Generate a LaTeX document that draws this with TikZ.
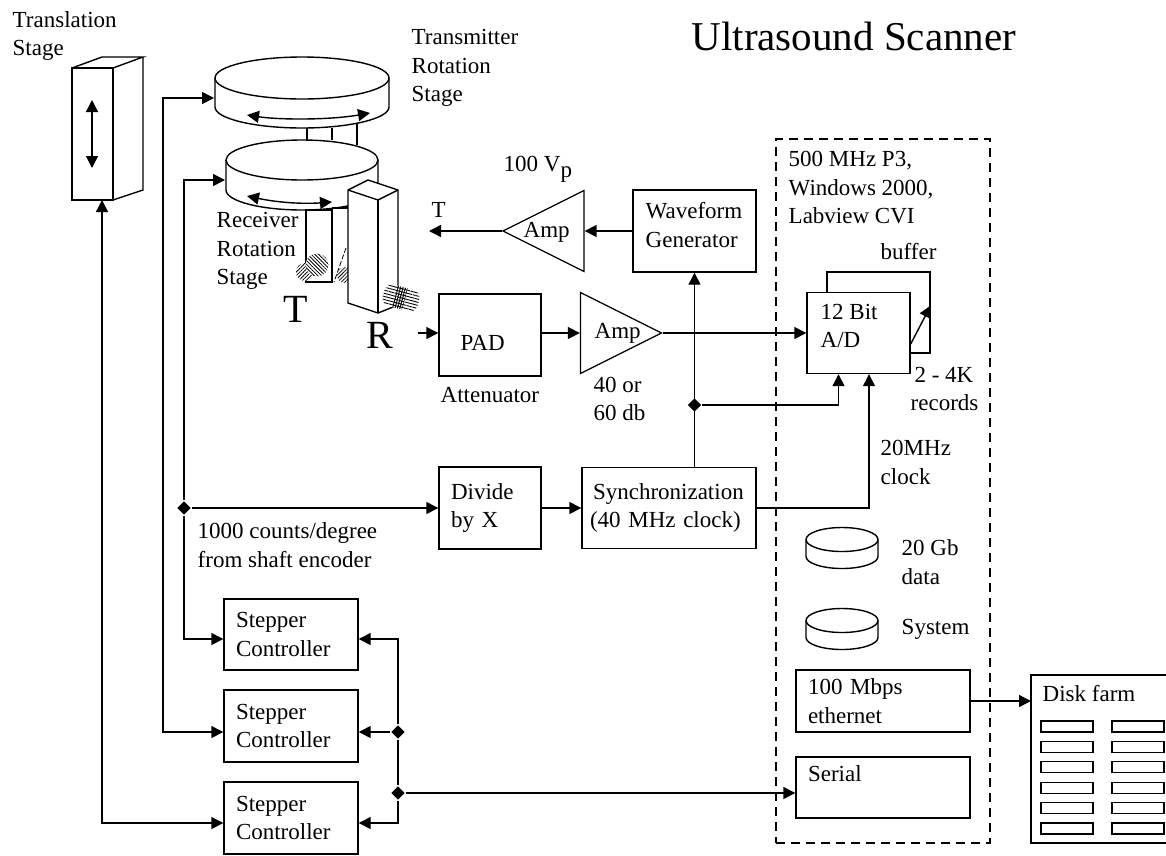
\documentclass[tikz,border=0pt]{standalone}
\usepackage{fontspec}
\setmainfont{Liberation Serif}
\usetikzlibrary{arrows.meta, positioning, shapes.geometric, patterns.meta}

\newcommand{\drawdisc}[5]{%
  \draw (#1,#2) ellipse [x radius=#3, y radius=#4];
  \draw (#1-#3,#2) -- (#1-#3,#2+#5)
    .. controls (#1-#3,#2+#5+0.55*#4) and (#1-0.55*#3,#2+#5+#4) .. (#1,#2+#5+#4)
    .. controls (#1+0.55*#3,#2+#5+#4) and (#1+#3,#2+#5+0.55*#4) .. (#1+#3,#2+#5)
    -- (#1+#3,#2);
}

\tikzset{
  line/.style={line width=1.4pt},
  arr/.style={line, -{Triangle[length=12pt,width=12pt]}},
  arrboth/.style={line, {Triangle[length=12pt,width=12pt]}-{Triangle[length=12pt,width=12pt]}},
  boxnode/.style={draw, line width=1.4pt, fill=white, align=left, inner ysep=0pt, inner xsep=12pt},
  lbl/.style={anchor=west, align=left, inner sep=0pt},
  ampnode/.style={draw, line width=1.2pt, isosceles triangle, isosceles triangle stretches, inner sep=0pt,
    minimum width=81pt, minimum height=81pt, anchor=apex},
  dotnode/.style={diamond, fill=black, inner sep=0pt, minimum size=14pt},
  drive/.style={draw, line width=1.3pt, minimum width=52pt, minimum height=11pt, inner sep=0pt},
  hatcha/.style={pattern={Lines[angle=45,distance=2.6pt,line width=0.8pt]}},
  hatchb/.style={pattern={Lines[angle=-45,distance=2.6pt,line width=0.8pt]}},
  hatchc/.style={pattern={Lines[angle=-15,distance=3pt,line width=0.9pt]}},
  hatchd/.style={pattern={Lines[angle=75,distance=2.4pt,line width=1pt]}}
}

\begin{document}
\begin{tikzpicture}[x=1pt, y=-1pt, line width=1.4pt,
    every node/.append style={font=\fontsize{23}{28.5}\selectfont}]
  \useasboundingbox (0,0) rectangle (1166,855);

  % title
  \node[lbl, font=\fontsize{41}{41}\selectfont] (title) at (691,36) {Ultrasound Scanner};

  % translation stage
  \draw (72,68) -- (102,57) -- (143,57) -- (113,68);
  \draw (143,57) -- (143,190) -- (113,200);
  \node[boxnode, minimum width=41pt, minimum height=132pt, inner sep=0pt] (transl) at (92.5,134) {};
  \draw[arrboth] (92,100) -- (92,168);
  \node[lbl] (transltext) at (12,36) {Translation\\Stage};

  % transmitter stage
  \drawdisc{302}{78}{87}{21}{29}
  \draw[arrboth] (247,115) .. controls (280,120) and (330,120) .. (370,113);
  \draw (307,128) -- (307,141);
  \draw (332,128) -- (332,140);
  \draw (357,124) -- (357,145);
  \node[lbl] (txtext) at (411,68) {Transmitter\\Rotation\\Stage};

  % receiver stage
  \drawdisc{302}{160}{76}{20}{30}
  \draw[arrboth] (247,196) .. controls (280,203) and (305,204) .. (332,202);
  \node[lbl] (rxtext) at (216,251) {Receiver\\Rotation\\Stage};

  % T probe
  \draw (332,208) -- (348,208);
  \draw (306,282) -- (306,210) -- (332,210) -- (332,282) -- cycle;
  \fill[white] (305,272) circle (9);
  \fill[hatcha] (305,272) circle (9);
  \fill[white] (317,265) circle (11.5);
  \fill[hatchb] (317,265) circle (11.5);
  \draw[line width=0.8pt, dash pattern=on 5pt off 2pt] (346,248) -- (334,282);
  \fill[hatcha] (345,275) circle (8);
  \node[font=\fontsize{40}{40}\selectfont] (tbig) at (296,309) {T};

  % R probe
  \draw[fill=white] (348,190) -- (368,180) -- (398,190) -- (398,305) -- (378,313) -- (348,303) -- cycle;
  \draw (348,190) -- (378,200) -- (398,190);
  \draw (378,200) -- (378,313);
  \fill[white, rounded corners=8pt, rotate around={-15:(401,298)}] (383,287) rectangle (419,309);
  \fill[hatchc, rounded corners=8pt, rotate around={-15:(401,298)}] (383,287) rectangle (419,309);
  \fill[hatchd, rotate around={-15:(401,298)}] (395,287) rectangle (405,309);
  \node[font=\fontsize{40}{40}\selectfont] (rbig) at (380,335) {R};

  % signal chain
  \coordinate (txout) at (429,231);
  \coordinate (rxout) at (418,333);
  \node[ampnode, shape border rotate=180] (amptx) at (501.5,231) {};
  \node[lbl] (amptxtext) at (523,232) {Amp};
  \node[lbl] (vptext) at (503,169) {100 V\raisebox{-6pt}{p}};
  \node[lbl] (ttext) at (431,210) {T};
  \node[boxnode, minimum width=123pt, minimum height=82pt, inner sep=0pt] (wave) at (694.5,231) {};
  \node[lbl] (wavetext) at (645,225) {Waveform\\Generator};
  \node[boxnode, minimum width=102pt, minimum height=82pt, inner sep=0pt] (pad) at (490,335) {};
  \node[lbl] (padtext) at (460,343) {PAD};
  \node[lbl] (attext) at (440,395) {Attenuator};
  \node[ampnode] (amprx) at (663,333) {};
  \node[lbl] (amprxtext) at (594,333) {Amp};
  \node[lbl] (dbtext) at (593,399) {40 or\\60 db};
  \draw[arr] (wave.west) -- (amptx.lower side);
  \draw[arr] (amptx.apex) -- (txout);
  \draw[arr] (rxout) -- ([yshift=2pt]pad.west);
  \draw[arr] ([yshift=2pt]pad.east) -- (amprx.lower side);

  % computer
  \node[draw, dash pattern=on 9pt off 6pt, line width=1.3pt, minimum width=214pt, minimum height=704pt, inner sep=0pt] (pc) at (883,491) {};
  \node[lbl] (pctext) at (788,188) {500 MHz P3,\\Windows 2000,\\Labview CVI};
  \node[boxnode, minimum width=103pt, minimum height=81pt, inner sep=0pt] (buffer) at (878.5,312.5) {};
  \node[boxnode, minimum width=103pt, minimum height=81pt, inner sep=0pt] (adc) at (858.5,333) {};
  \node[lbl] (adctext) at (820,326) {12 Bit\\A/D};
  \node[lbl] (buftext) at (880,252) {buffer};
  \node[lbl] (rectext) at (910,389) {\,2 - 4K\\records};
  \draw[arr] ([yshift=-11pt]adc.east) -- ([yshift=7pt]buffer.east);
  \draw[arr] (amprx.apex) -- (adc.west);

  \drawdisc{842}{539.5}{36}{12}{17}
  \node[lbl] (datatext) at (901,562) {20 Gb\\data};
  \drawdisc{842}{620.5}{36}{12}{17}
  \node[lbl] (systext) at (901,629) {System};
  \node[boxnode, text width=150pt, minimum height=62pt] (eth) at (883,701) {100 Mbps\\ethernet};
  \node[boxnode, text width=150pt, minimum height=61pt] (serial) at (883,787.5) {Serial\\~};

  % clocking
  \node[boxnode, text width=78pt, minimum height=82pt] (divx) at (490,508) {Divide\\by X};
  \node[boxnode, text width=158pt, inner xsep=8pt, minimum height=81pt] (sync) at (669,508) {\hspace{3pt}Synchronization\\(40 MHz clock)};
  \node[dotnode] (dotsync) at (694.5,405) {};
  \node[dotnode] (dotenc) at (184,508) {};
  \node[lbl] (enctext) at (197,545) {1000 counts/degree\\from shaft encoder};
  \node[lbl] (clktext) at (880,462.5) {20MHz\\clock};
  \draw[arr] (sync.north -| wave.south) -- (wave.south);
  \draw[arr] (dotsync) -| ([xshift=-20pt]adc.south);
  \draw[arr] (sync.east) -| ([xshift=10.5pt]adc.south);
  \draw[arr] (divx) -- (sync);
  \draw[arr] (dotenc) -- (divx);

  % stepper controllers
  \node[boxnode, text width=110pt, minimum height=71pt] (stepa) at (291,634.5) {Stepper\\Controller};
  \node[boxnode, text width=110pt, minimum height=72pt] (stepb) at (291,726) {Stepper\\Controller};
  \node[boxnode, text width=110pt, minimum height=72pt] (stepc) at (291,818) {Stepper\\Controller};
  \node[dotnode] (dotbus) at (398,732) {};
  \node[dotnode] (dotser) at (398,793) {};
  \coordinate (rxin) at (225,180);
  \coordinate (txin) at (214,98);
  \coordinate (txbus) at (163,732);
  \coordinate (trin) at (102,200);
  \coordinate (trbus) at (102,823);
  \draw[arr] (dotenc) |- (rxin);
  \draw[arr] (dotenc) |- ([yshift=-4.5pt]stepa.west);
  \draw[arrboth] (txin) -| (txbus) -- ([yshift=-6pt]stepb.west);
  \draw[arrboth] (trin) -- (trbus) -- ([yshift=-5pt]stepc.west);
  \draw[arr] (dotbus) |- ([yshift=-4.5pt]stepa.east);
  \draw[arr] (dotbus) -- ([yshift=-6pt]stepb.east);
  \draw[arr] (dotser) |- ([yshift=-5pt]stepc.east);
  \draw (dotbus) -- (dotser);
  \draw[arr] (dotser) -- ([yshift=-5.5pt]serial.west);

  % disk farm
  \coordinate (farm) at (1031,701);
  \draw (1166,675) -- (1031,675) -- (1031,843) -- (1166,843);
  \node[lbl] (farmtext) at (1042,694) {Disk farm};
  \draw[arr] (eth.east) -- (farm);
  \foreach \r in {0,...,5} {
    \node[drive] (drivea\r) at (1067,726.5+20.4*\r) {};
    \node[drive] (driveb\r) at (1138,726.5+20.4*\r) {};
  }
\end{tikzpicture}
\end{document}
